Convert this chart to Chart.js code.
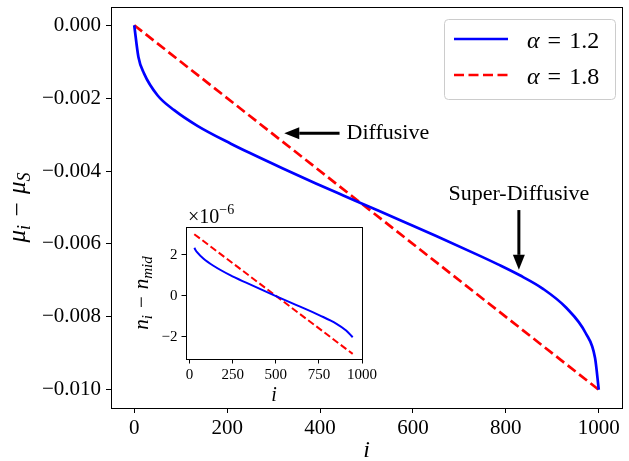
<!DOCTYPE html>
<html>
<head>
    <title>Chemical potential profile</title>
    <style>
        body { margin: 0; background: #fff; }
        #wrap { position: relative; width: 629px; height: 461px; }
        #mainChart { position: absolute; left: 0; top: 0; }
        #insetChart { position: absolute; left: 125px; top: 190px; }
    </style>
</head>
<body>
    <div id="wrap">
        <canvas id="mainChart" width="629" height="461"></canvas>
        <canvas id="insetChart" width="265" height="215"></canvas>
    </div>

    <script src="https://cdn.jsdelivr.net/npm/chart.js"></script>
    <script>
        const SERIF = "'Liberation Serif', 'DejaVu Serif', serif";
        const it = s => `italic ${s}px ${SERIF}`;
        const rm = s => `${s}px ${SERIF}`;
        const GAP = ' \u200A';

        // main panel: mu_i - mu_S against i
        const mainXTicks = [0, 200, 400, 600, 800, 1000];
        const mainYTicks = [-0.010, -0.008, -0.006, -0.004, -0.002, 0.000];
        const blueI  = [0, 9, 21, 50, 86, 136, 208, 248, 320, 391, 450, 506, 580, 650, 743, 783, 830, 880, 930, 972, 992, 1000];
        const blueMu = [0, -0.00087, -0.00132, -0.00192, -0.00233, -0.00276, -0.00325, -0.00350, -0.00393, -0.00434,
                        -0.00467, -0.00498, -0.00539, -0.00578, -0.00632, -0.00656, -0.00686, -0.00723, -0.00775,
                        -0.00845, -0.00913, -0.01000];
        const redI  = [0, 1000];
        const redMu = [0, -0.010];

        // inset: n_i - n_mid (units of 1e-6)
        const insetXTicks = [0, 250, 500, 750, 1000];
        const insetYTicks = [-2, 0, 2];
        const insetBlueI = [27, 43, 81, 138, 235, 331, 494, 620, 754, 850, 908, 946];
        const insetBlueN = [2.33, 2.12, 1.80, 1.46, 1.00, 0.62, 0.0, -0.46, -0.96, -1.36, -1.70, -2.03];
        const insetRedI = [27, 946];
        const insetRedN = [3.0, -2.84];

        // annotations in data coordinates: arrow tip, arrow tail, text anchor
        const notes = [
            { text: 'Diffusive', tip: [323, -0.00296], tail: [442, -0.00296], at: [457, -0.00296], align: 'left' },
            { text: 'Super-Diffusive', tip: [828, -0.00671], tail: [828, -0.00507], at: [828, -0.00463], align: 'center' }
        ];

        const toXY = (xs, ys) => xs.map((v, k) => ({ x: v, y: ys[k] }));

        function drawParts(ctx, parts, x, y, align) {
            let w = 0;
            parts.forEach(p => { ctx.font = p[1]; w += ctx.measureText(p[0]).width; });
            let cx = align === 'center' ? x - w / 2 : x;
            parts.forEach(p => {
                ctx.font = p[1];
                ctx.fillText(p[0], cx, y + (p[2] || 0));
                cx += ctx.measureText(p[0]).width;
            });
        }

        function drawArrow(ctx, x0, y0, x1, y1) {
            const ang = Math.atan2(y1 - y0, x1 - x0);
            const headLen = 15, headW = 6;
            const bx = x1 - headLen * Math.cos(ang), by = y1 - headLen * Math.sin(ang);
            ctx.strokeStyle = '#000';
            ctx.fillStyle = '#000';
            ctx.lineWidth = 3;
            ctx.beginPath();
            ctx.moveTo(x0, y0);
            ctx.lineTo(bx, by);
            ctx.stroke();
            ctx.beginPath();
            ctx.moveTo(x1, y1);
            ctx.lineTo(bx + headW * Math.sin(ang), by - headW * Math.cos(ang));
            ctx.lineTo(bx - headW * Math.sin(ang), by + headW * Math.cos(ang));
            ctx.closePath();
            ctx.fill();
        }

        function strokeFrame(ctx, a) {
            const al = v => Math.round(v - 0.5) + 0.5;
            ctx.strokeStyle = '#000';
            ctx.lineWidth = 1;
            ctx.strokeRect(al(a.left), al(a.top), al(a.right) - al(a.left), al(a.bottom) - al(a.top));
        }

        const mainDecor = {
            id: 'mainDecor',
            afterDraw(chart) {
                const { ctx, chartArea: a, scales: { x, y } } = chart;
                ctx.save();
                strokeFrame(ctx, a);

                // legend box, upper right
                const bw = 171, bh = 80;
                const bl = a.right - 7 - bw, bt = a.top + 12;
                ctx.beginPath();
                ctx.roundRect(bl + 0.5, bt + 0.5, bw, bh, 4);
                ctx.fillStyle = 'rgba(255,255,255,0.8)';
                ctx.fill();
                ctx.strokeStyle = '#cccccc';
                ctx.lineWidth = 1;
                ctx.stroke();
                chart.data.datasets.forEach((ds, k) => {
                    const ry = bt + 20 + k * 36;
                    ctx.strokeStyle = ds.borderColor;
                    ctx.lineWidth = ds.borderWidth;
                    ctx.setLineDash(ds.borderDash || []);
                    ctx.beginPath();
                    ctx.moveTo(bl + 10, ry);
                    ctx.lineTo(bl + 64, ry);
                    ctx.stroke();
                    ctx.setLineDash([]);
                    ctx.fillStyle = '#000';
                    ctx.textBaseline = 'alphabetic';
                    const rest = ds.label.slice(1).replace(/ /g, GAP);
                    drawParts(ctx, [[ds.label[0], it(24)], [rest, rm(24)]], bl + 83, ry + 9, 'left');
                });

                // annotations
                notes.forEach(n => {
                    drawArrow(ctx, x.getPixelForValue(n.tail[0]), y.getPixelForValue(n.tail[1]),
                              x.getPixelForValue(n.tip[0]), y.getPixelForValue(n.tip[1]));
                    ctx.fillStyle = '#000';
                    ctx.font = rm(22);
                    ctx.textAlign = n.align;
                    ctx.textBaseline = 'middle';
                    ctx.fillText(n.text, x.getPixelForValue(n.at[0]), y.getPixelForValue(n.at[1]));
                });
                ctx.textAlign = 'left';
                ctx.textBaseline = 'alphabetic';

                // axis titles
                ctx.fillStyle = '#000';
                drawParts(ctx, [['i', it(24)]], (a.left + a.right) / 2, 457, 'center');
                ctx.translate(25, (a.top + a.bottom) / 2);
                ctx.rotate(-Math.PI / 2);
                drawParts(ctx, [['μ', it(25)], ['i', it(18), 5], [GAP + '−' + GAP, rm(25)], ['μ', it(25)], ['S', it(18), 5]], 0, 0, 'center');
                ctx.restore();
            }
        };

        const insetDecor = {
            id: 'insetDecor',
            beforeDatasetsDraw(chart) {
                const { ctx, chartArea: a } = chart;
                ctx.save();
                ctx.fillStyle = '#fff';
                ctx.fillRect(a.left, a.top, a.right - a.left, a.bottom - a.top);
                ctx.restore();
            },
            afterDraw(chart) {
                const { ctx, chartArea: a } = chart;
                ctx.save();
                strokeFrame(ctx, a);
                ctx.fillStyle = '#000';
                ctx.textBaseline = 'alphabetic';
                drawParts(ctx, [['×10', rm(20)], ['−6', rm(14), -9]], a.left + 2, a.top - 4, 'left');
                drawParts(ctx, [['i', it(20)]], (a.left + a.right) / 2, 211, 'center');
                ctx.translate(23, (a.top + a.bottom) / 2);
                ctx.rotate(-Math.PI / 2);
                drawParts(ctx, [['n', it(21)], ['i', it(15), 4], [GAP + '−' + GAP, rm(21)], ['n', it(21)], ['mid', it(15), 4]], 0, 0, 'center');
                ctx.restore();
            }
        };

        // fixed axis sizes; the label overhang padding is dropped so the
        // plot area lands where the layout padding puts it
        const fixWidth = w => s => { s.width = w; s.paddingTop = 0; s.paddingBottom = 0; };
        const fixHeight = h => s => { s.height = h; s.paddingLeft = 0; s.paddingRight = 0; };

        function axisOpts(min, max, ticks, fit, size, tickLen, pad, fmt) {
            return {
                type: 'linear', min: min, max: max,
                afterBuildTicks: s => { s.ticks = ticks.map(v => ({ value: v })); },
                afterFit: fit,
                grid: { drawOnChartArea: false, drawTicks: true, tickLength: tickLen, color: '#000', lineWidth: 1 },
                border: { display: true, color: '#000', width: 1 },
                ticks: { font: { family: SERIF, size: size }, color: '#000', padding: pad,
                         maxRotation: 0, autoSkip: false, callback: fmt }
            };
        }

        const fmtMu = v => Math.abs(v) < 1e-12 ? '0.000' : (v < 0 ? '−' : '') + Math.abs(v).toFixed(3);
        const fmtInt = v => (v < 0 ? '−' : '') + Math.abs(Math.round(v));

        new Chart(document.getElementById('mainChart'), {
            type: 'line',
            data: {
                datasets: [
                    { label: 'α = 1.2', data: toXY(blueI, blueMu), borderColor: '#0000ff', borderWidth: 2.7,
                      pointRadius: 0, cubicInterpolationMode: 'monotone', fill: false },
                    { label: 'α = 1.8', data: toXY(redI, redMu), borderColor: '#ff0000', borderWidth: 2.7,
                      borderDash: [10, 4.5], pointRadius: 0, fill: false }
                ]
            },
            options: {
                responsive: false, animation: false,
                layout: { padding: { left: 0, top: 7, right: 7, bottom: 0 } },
                plugins: { legend: { display: false }, tooltip: { enabled: false } },
                scales: {
                    x: axisOpts(-50, 1050, mainXTicks, fixHeight(53), 21, 5, 3, v => String(v)),
                    y: axisOpts(-0.0105, 0.0005, mainYTicks, fixWidth(111), 21, 5, 5, fmtMu)
                }
            },
            plugins: [mainDecor]
        });

        new Chart(document.getElementById('insetChart'), {
            type: 'line',
            data: {
                datasets: [
                    { label: 'α = 1.2', data: toXY(insetBlueI, insetBlueN), borderColor: '#0000ff', borderWidth: 2,
                      pointRadius: 0, cubicInterpolationMode: 'monotone', fill: false },
                    { label: 'α = 1.8', data: toXY(insetRedI, insetRedN), borderColor: '#ff0000', borderWidth: 2,
                      borderDash: [7, 3.2], pointRadius: 0, fill: false }
                ]
            },
            options: {
                responsive: false, animation: false,
                layout: { padding: { left: 0, top: 37, right: 28, bottom: 0 } },
                plugins: { legend: { display: false }, tooltip: { enabled: false } },
                scales: {
                    x: axisOpts(-21, 1000, insetXTicks, fixHeight(46), 15, 4.5, 3, v => String(v)),
                    y: axisOpts(-3.09, 3.35, insetYTicks, fixWidth(61), 15, 4.5, 4, fmtInt)
                }
            },
            plugins: [insetDecor]
        });
    </script>
</body>
</html>
